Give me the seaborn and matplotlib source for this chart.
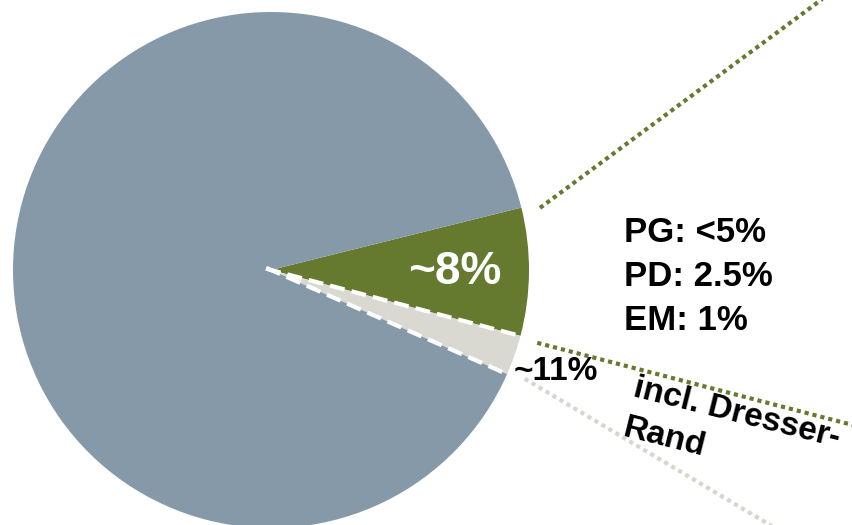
import numpy as np
import matplotlib
matplotlib.use('Agg')
import matplotlib.pyplot as plt
import seaborn as sns

# shares of the pie (percent), drawn clockwise from the green slice
segments = ['core', 'incl_dr', 'rest']
shares = [8, 2.5, 89.5]
colors = ['#657a2f', '#d9d9d1', '#8699a9']

main_label = '~8%'
cum_label = '~11%'
breakdown = ['PG: <5%', 'PD: 2.5%', 'EM: 1%']
note = 'incl. Dresser-\nRand'

sns.set_theme(style='white')
plt.rcParams['font.family'] = ['Liberation Sans', 'DejaVu Sans']

fig = plt.figure(figsize=(8.53, 5.25), dpi=100)
ax = fig.add_axes([0, 0, 1, 1])

wedges, _ = ax.pie(shares, colors=colors, startangle=14, counterclock=False,
                   radius=1.0, center=(0, 0),
                   wedgeprops=dict(linewidth=0, edgecolor='none'))

# white dashed separators along the lower edges of the green and light slices
for w in wedges[:2]:
    ang = np.deg2rad(w.theta1)
    ax.plot([-0.02 * np.cos(ang), 0.99 * np.cos(ang)],
            [-0.02 * np.sin(ang), 0.99 * np.sin(ang)],
            color='white', lw=3, dashes=(3.6, 1.7), solid_capstyle='butt',
            dash_capstyle='butt', zorder=5)

# connector lines toward the (cut-off) detail chart
green_top = wedges[0].theta2
green_bot = wedges[0].theta1
light_bot = wedges[1].theta1


def connector(theta, r0, slope_deg, length, color):
    a = np.deg2rad(theta)
    x0, y0 = r0 * np.cos(a), r0 * np.sin(a)
    s = np.deg2rad(slope_deg)
    ax.plot([x0, x0 + length * np.cos(s)], [y0, y0 + length * np.sin(s)],
            color=color, lw=3, dashes=(1, 0.95), dash_capstyle='butt',
            zorder=4)


connector(green_top - 1.0, 1.07, 36.5, 1.6, '#657a2f')
connector(green_bot - 0.5, 1.07, -14.6, 1.4, '#657a2f')
connector(light_bot + 0.6, 1.07, -30.8, 1.2, '#d6d6ce')

ax.text(0.713, -0.008, main_label, color='white', fontsize=33,
        fontweight='bold', ha='center', va='center')
ax.text(0.94, -0.395, cum_label, color='black', fontsize=24,
        fontweight='bold', ha='left', va='center')

for i, t in enumerate(breakdown):
    ax.text(1.368, 0.147 - i * 0.172, t, color='black', fontsize=25,
            fontweight='bold', ha='left', va='center')

ax.text(1.42, -0.397, note, color='black', fontsize=24, fontweight='bold',
        ha='left', va='top', rotation=-14, rotation_mode='anchor',
        linespacing=1.45)

ax.set_xlim(-271 / 258, 582 / 258)
ax.set_ylim(-255 / 258, 270 / 258)
ax.set_aspect('equal')
ax.axis('off')

fig.savefig('out.png', dpi=100, facecolor='white')
